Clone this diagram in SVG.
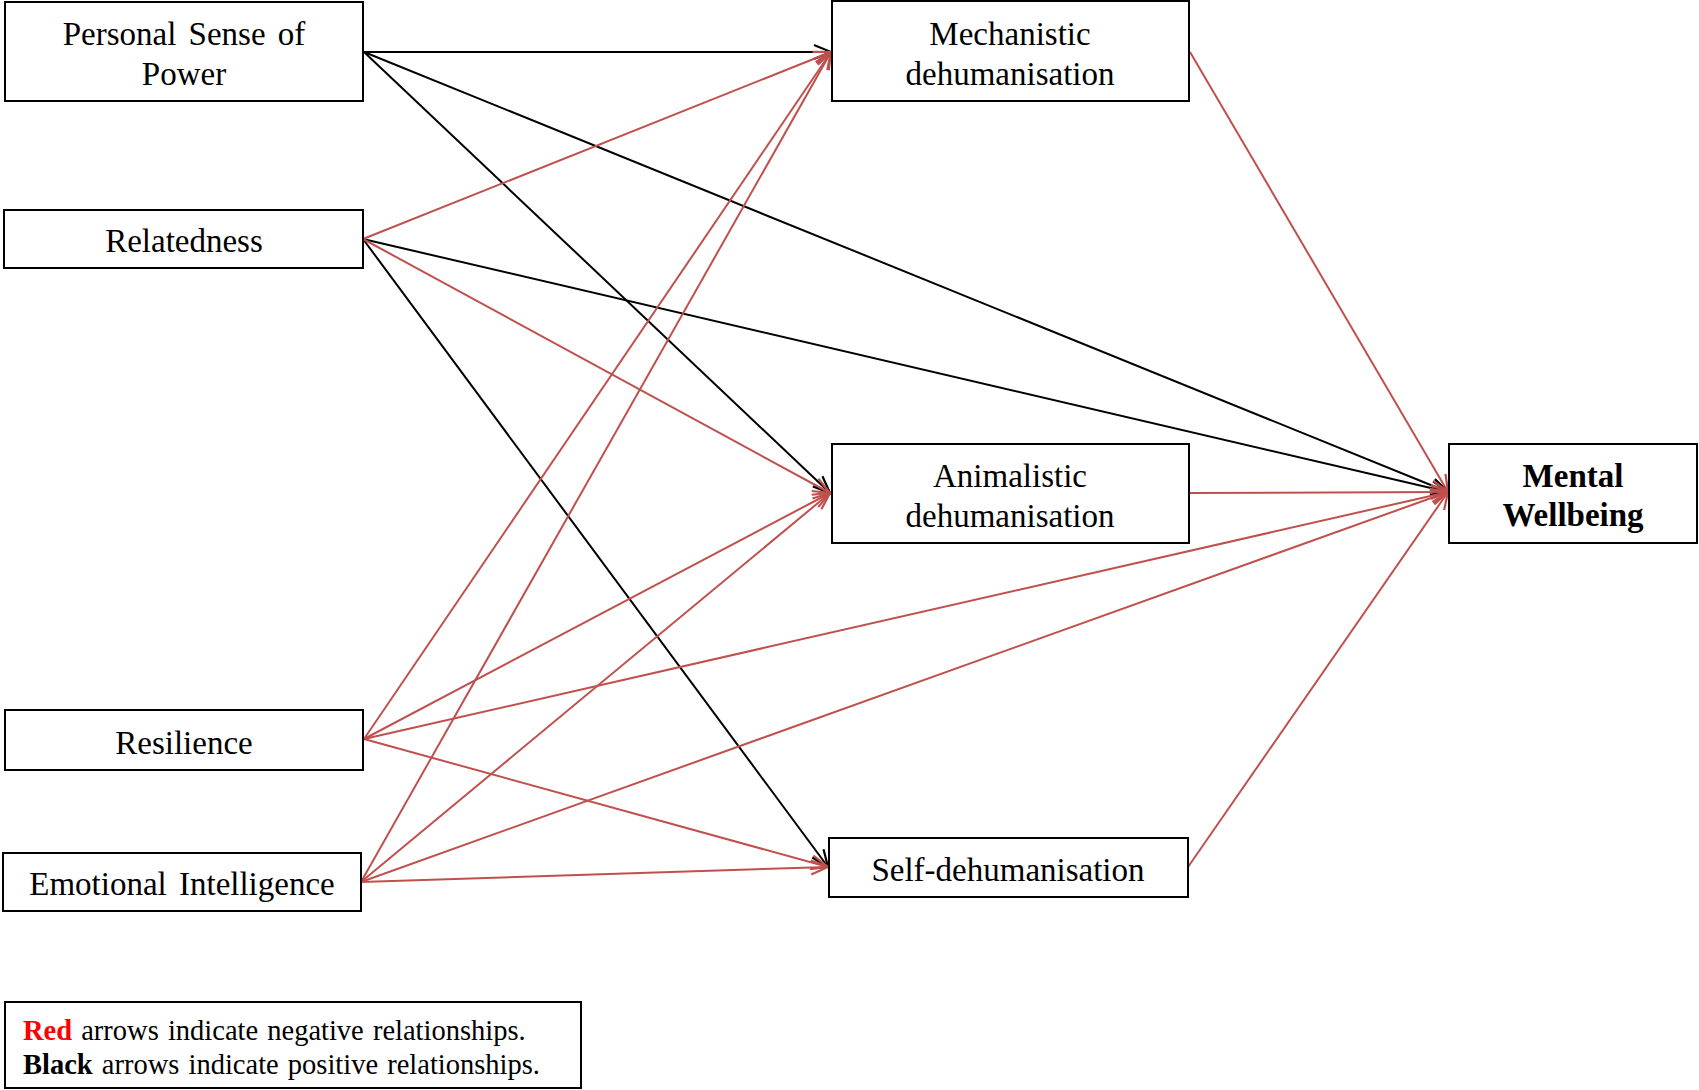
<svg xmlns="http://www.w3.org/2000/svg" width="1699" height="1090" viewBox="0 0 1699 1090">
<style>
.box{fill:#fff;stroke:#000;stroke-width:2}
.t{font-family:"Liberation Serif","Times New Roman",serif;font-size:33px;fill:#000;text-anchor:middle}
.b{font-weight:bold}
.lg{font-family:"Liberation Serif","Times New Roman",serif;font-size:28.5px;fill:#000}
.r{stroke:#C0504D;stroke-width:2;fill:none;marker-end:url(#ar)}
.k{stroke:#000;stroke-width:2;fill:none;marker-end:url(#ak)}
</style>
<defs>
<marker id="ar" viewBox="-20 -10 22 20" refX="0" refY="0" markerWidth="22" markerHeight="20" markerUnits="userSpaceOnUse" orient="auto">
<path d="M-17,-7 L0,0 L-17,7" fill="none" stroke="#C0504D" stroke-width="2.2"/>
</marker>
<marker id="ak" viewBox="-20 -10 22 20" refX="0" refY="0" markerWidth="22" markerHeight="20" markerUnits="userSpaceOnUse" orient="auto">
<path d="M-17,-7 L0,0 L-17,7" fill="none" stroke="#000" stroke-width="2.2"/>
</marker>
</defs>
<rect width="1699" height="1090" fill="#fff"/>
<g id="connectors">
<line class="k" x1="364" y1="52" x2="831" y2="52"/>
<line class="k" x1="364" y1="52" x2="830" y2="493"/>
<line class="k" x1="364" y1="52" x2="1448" y2="492"/>
<line class="k" x1="363" y1="239" x2="1448" y2="492"/>
<line class="k" x1="363" y1="239" x2="828" y2="867"/>
<line class="r" x1="363" y1="239" x2="831" y2="52"/>
<line class="r" x1="363" y1="239" x2="830" y2="493"/>
<line class="r" x1="364" y1="739" x2="831" y2="52"/>
<line class="r" x1="364" y1="739" x2="830" y2="493"/>
<line class="r" x1="364" y1="739" x2="1448" y2="492"/>
<line class="r" x1="364" y1="739" x2="828" y2="867"/>
<line class="r" x1="361" y1="882" x2="831" y2="52"/>
<line class="r" x1="361" y1="882" x2="830" y2="493"/>
<line class="r" x1="361" y1="882" x2="1448" y2="492"/>
<line class="r" x1="361" y1="882" x2="828" y2="867"/>
<line class="r" x1="1190" y1="52" x2="1448" y2="492"/>
<line class="r" x1="1190" y1="493" x2="1448" y2="492"/>
<line class="r" x1="1188" y1="867" x2="1448" y2="492"/>
</g>
<g id="psp">
<rect class="box" x="5" y="2" width="358" height="99"/>
<text class="t" x="184" y="44.5" word-spacing="4">Personal Sense of</text>
<text class="t" x="184" y="84.5">Power</text>
</g>
<g id="relatedness">
<rect class="box" x="4" y="210" width="359" height="58"/>
<text class="t" x="184" y="251.5">Relatedness</text>
</g>
<g id="resilience">
<rect class="box" x="5" y="710" width="358" height="60"/>
<text class="t" x="184" y="753.5">Resilience</text>
</g>
<g id="ei">
<rect class="box" x="3" y="853" width="358" height="58"/>
<text class="t" x="182" y="894.5" word-spacing="4">Emotional Intelligence</text>
</g>
<g id="mechanistic">
<rect class="box" x="832" y="1" width="357" height="100"/>
<text class="t" x="1010" y="44.5">Mechanistic</text>
<text class="t" x="1010" y="84.5">dehumanisation</text>
</g>
<g id="animalistic">
<rect class="box" x="832" y="444" width="357" height="99"/>
<text class="t" x="1010" y="486.5">Animalistic</text>
<text class="t" x="1010" y="526.5">dehumanisation</text>
</g>
<g id="self">
<rect class="box" x="829" y="838" width="359" height="59"/>
<text class="t" x="1008" y="880.5">Self-dehumanisation</text>
</g>
<g id="wellbeing">
<rect class="box" x="1449" y="444" width="248" height="99"/>
<text class="t b" x="1573" y="486.5">Mental</text>
<text class="t b" x="1573" y="525.5">Wellbeing</text>
</g>
<g id="legend">
<rect class="box" x="5" y="1002" width="576" height="86"/>
<text class="lg" x="23" y="1039.5" word-spacing="2"><tspan fill="#FF0000" font-weight="bold">Red</tspan> arrows indicate negative relationships.</text>
<text class="lg" x="23" y="1073.5" word-spacing="2"><tspan font-weight="bold">Black</tspan> arrows indicate positive relationships.</text>
</g>
</svg>
